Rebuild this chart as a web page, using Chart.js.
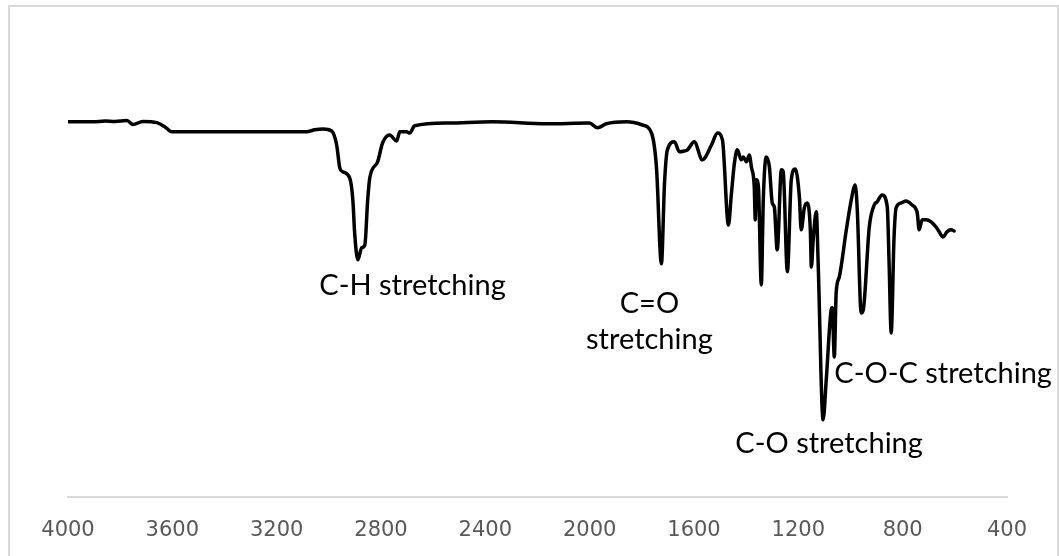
<!DOCTYPE html>
<html>
<head>
<meta charset="utf-8">
<script src="https://cdn.jsdelivr.net/npm/chart.js@4/dist/chart.umd.min.js"></script>
<style>
    html, body { margin: 0; padding: 0; background: #ffffff; overflow: hidden; }
    #frame {
        position: absolute; left: 8px; top: 5px;
        width: 1051px; height: 620px;
        box-sizing: border-box;
        border: 2px solid #d9d9d9;
    }
    #irChart { position: absolute; left: 0; top: 0; }
</style>
</head>
<body>
<div id="frame"></div>
<canvas id="irChart" width="1059" height="556"></canvas>
<script>
// wavenumber (cm-1) and transmittance (%)
const wavenumbers = [
    4000, 3954, 3904, 3858, 3820, 3774, 3751, 3713, 3659, 3628, 3602,
    3085, 3054, 3023, 2989, 2970, 2958, 2947, 2920, 2908, 2901,
    2889, 2874, 2862, 2851, 2843, 2813, 2794, 2767, 2740, 2728,
    2702, 2690, 2671, 2537, 2372, 2165, 2001, 1970, 1936, 1859,
    1798, 1763, 1744, 1725, 1713, 1702, 1675, 1656, 1637, 1625,
    1599, 1568, 1533, 1510, 1491, 1468, 1457, 1445, 1434, 1419,
    1411, 1399, 1388, 1380, 1369, 1365, 1361, 1353, 1342, 1334,
    1323, 1311, 1300, 1292, 1281, 1265, 1258, 1242, 1227, 1212,
    1196, 1189, 1177, 1166, 1154, 1150, 1143, 1131, 1124, 1105,
    1093, 1074, 1070, 1062, 1055, 1043, 1016, 997, 982, 974,
    959, 951, 928, 909, 898, 879, 859, 852, 844, 833,
    825, 806, 787, 764, 744, 737, 725, 710, 691, 672,
    660, 645, 630, 614, 603
];

const transmittance = [
    93.8, 93.8, 93.8, 94.0, 93.9, 94.1, 93.1, 93.9, 93.6, 92.5, 91.3,
    91.3, 91.8, 92.0, 91.5, 88.0, 82.3, 81.3, 79.8, 74.3, 66.0,
    59.3, 62.3, 63.0, 74.3, 79.8, 83.8, 88.5, 90.5, 89.0, 91.3,
    91.3, 91.0, 92.8, 93.5, 93.8, 93.3, 93.5, 92.3, 93.3, 93.8,
    93.0, 91.0, 82.5, 58.3, 78.5, 86.8, 88.8, 86.3, 86.5, 86.8,
    88.8, 84.3, 88.0, 91.0, 89.3, 68.0, 75.5, 83.5, 86.8, 84.3,
    85.0, 83.8, 85.5, 82.5, 77.5, 69.3, 79.3, 77.5, 53.0, 75.0,
    85.0, 82.5, 73.5, 72.5, 61.8, 81.8, 81.3, 56.3, 79.3, 82.0,
    75.0, 66.8, 72.3, 73.5, 66.8, 57.5, 64.3, 71.3, 58.5, 19.3,
    29.3, 46.8, 47.3, 35.0, 51.0, 55.0, 66.8, 74.3, 78.0, 71.8,
    46.0, 46.8, 67.5, 73.0, 73.8, 75.5, 72.5, 58.5, 41.0, 65.0,
    72.3, 73.5, 74.0, 73.0, 71.0, 66.8, 69.3, 69.3, 68.8, 67.5,
    66.3, 65.0, 66.3, 66.8, 66.5
];

// band labels: text lines, anchor wavenumber, baseline transmittance of first line
const bandLabels = [["C-H stretching"], ["C=O", "stretching"], ["C-O-C stretching"], ["C-O stretching"]];
const bandWavenumbers = [2679, 1771, 645, 1082];
const bandBaselines = [50.5, 46, 28.5, 11];

const axisMin = 400;
const axisMax = 4000;
const axisStep = 400;

const bandLabelPlugin = {
    id: 'bandLabels',
    afterDatasetsDraw(chart) {
        const ctx = chart.ctx;
        const x = chart.scales.x;
        const y = chart.scales.y;
        ctx.save();
        ctx.fillStyle = '#000000';
        ctx.font = '29px Lato';
        ctx.textAlign = 'center';
        ctx.textBaseline = 'alphabetic';
        bandLabels.forEach((lines, i) => {
            const px = x.getPixelForValue(bandWavenumbers[i]);
            const py = y.getPixelForValue(bandBaselines[i]);
            lines.forEach((line, j) => ctx.fillText(line, px, py + j * 36));
        });
        ctx.restore();
    }
};

function createSpectrum() {
    const ctx = document.getElementById('irChart').getContext('2d');

    new Chart(ctx, {
        type: 'line',
        data: {
            datasets: [{
                data: wavenumbers.map((wn, i) => ({ x: wn, y: transmittance[i] })),
                borderColor: '#000000',
                borderWidth: 3.5,
                pointRadius: 0,
                fill: false,
                cubicInterpolationMode: 'monotone',
                borderJoinStyle: 'round',
                borderCapStyle: 'round'
            }]
        },
        options: {
            responsive: false,
            animation: false,
            layout: { padding: { left: 68, right: 52, top: 97, bottom: 15 } },
            plugins: {
                legend: { display: false },
                tooltip: { enabled: false }
            },
            scales: {
                x: {
                    type: 'linear',
                    reverse: true,
                    min: axisMin,
                    max: axisMax,
                    afterFit: (scale) => { scale.height = 44; },
                    ticks: {
                        stepSize: axisStep,
                        color: '#595959',
                        font: { family: 'DejaVu Sans', size: 21 },
                        padding: 21,
                        maxRotation: 0,
                        callback: (value) => String(value)
                    },
                    grid: { display: false, drawTicks: false },
                    border: { display: true, color: '#d9d9d9', width: 2 }
                },
                y: {
                    display: false,
                    min: 0,
                    max: 100
                }
            }
        },
        plugins: [bandLabelPlugin]
    });
}

createSpectrum();
</script>
</body>
</html>
